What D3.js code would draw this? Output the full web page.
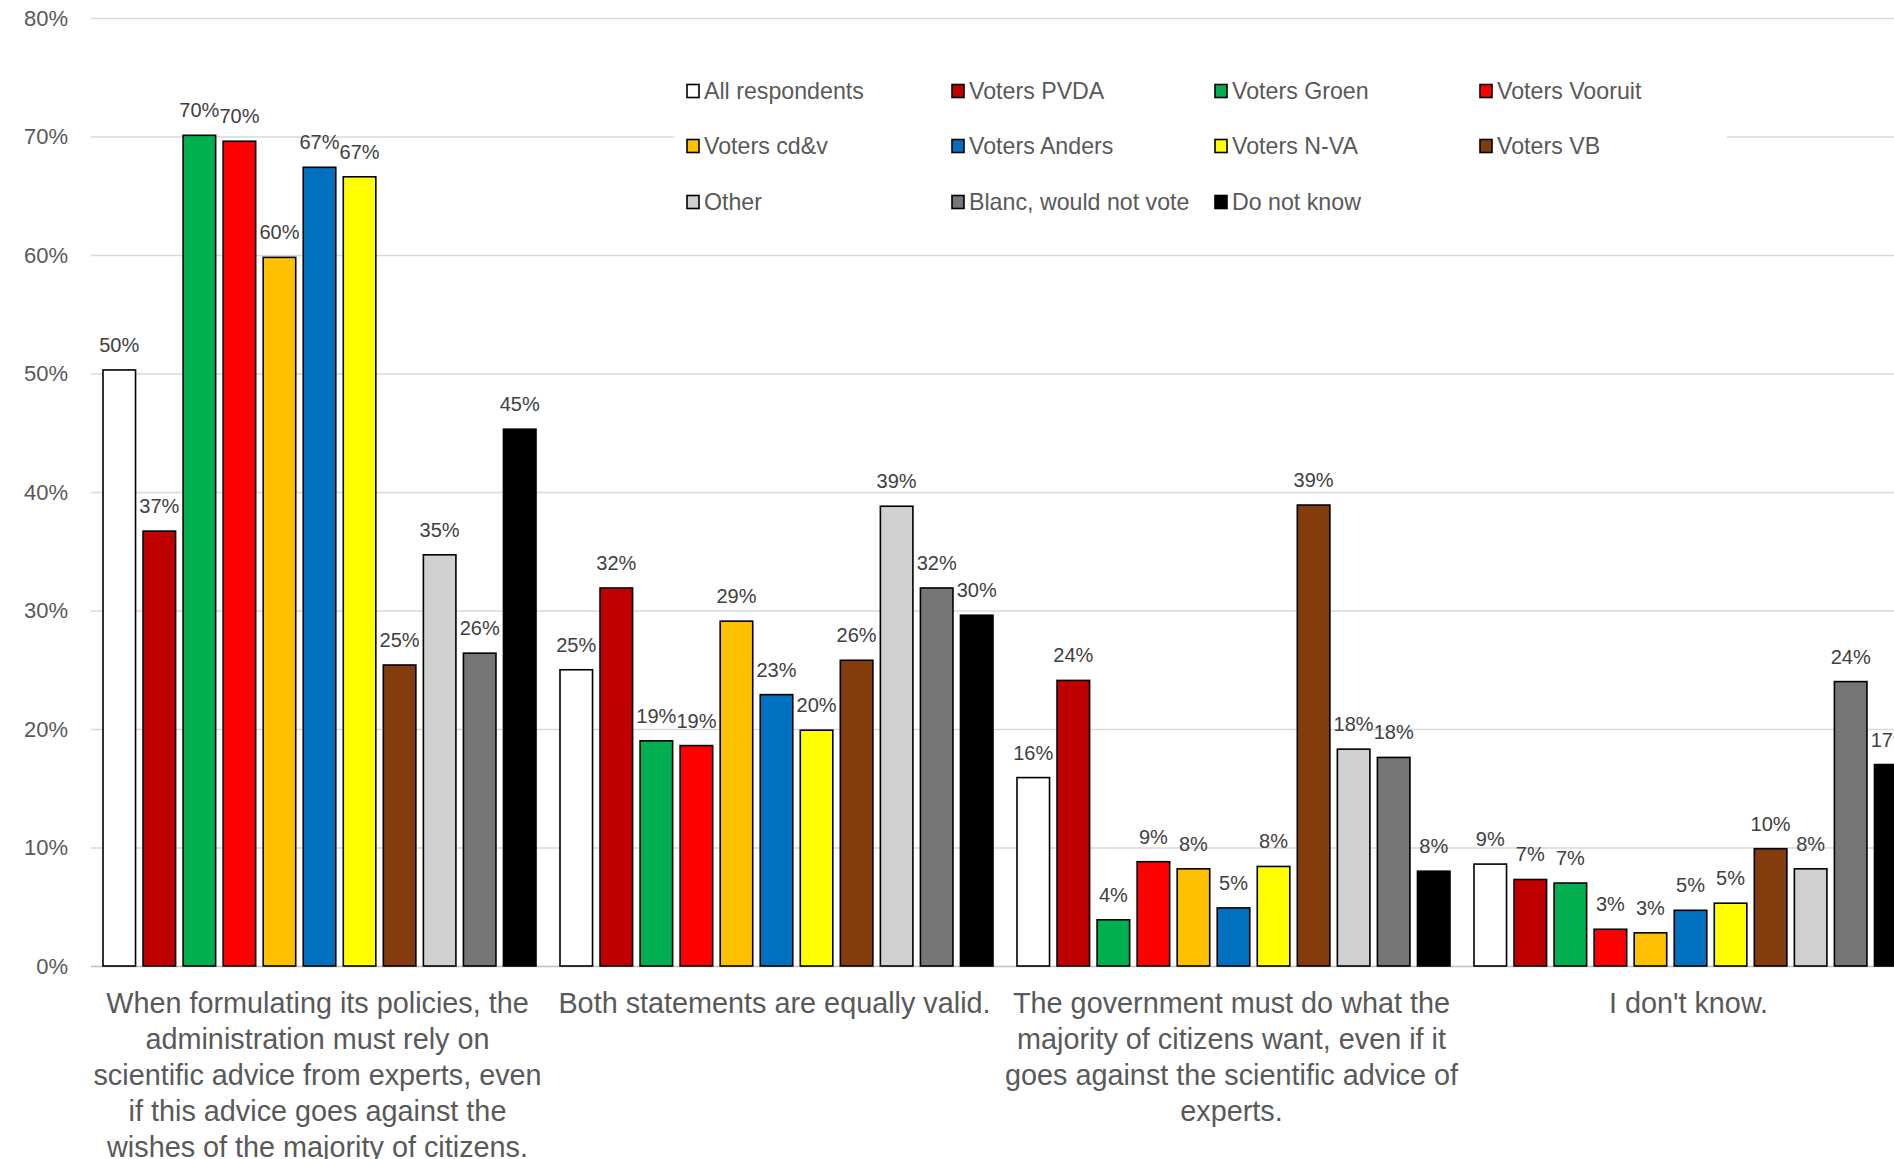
<!DOCTYPE html>
<html><head><meta charset="utf-8">
<script src="https://cdn.jsdelivr.net/npm/d3@7"></script>
<style>html,body{margin:0;padding:0;background:#fff;overflow:hidden}</style>
</head><body>
<svg id="chart" width="1894" height="1159"></svg>
<script>
const categories = [
  "When formulating its policies, the administration must rely on scientific advice from experts, even if this advice goes against the wishes of the majority of citizens.",
  "Both statements are equally valid.",
  "The government must do what the majority of citizens want, even if it goes against the scientific advice of experts.",
  "I don't know."
];
const categoryLines = [
  ["When formulating its policies, the","administration must rely on","scientific advice from experts, even","if this advice goes against the","wishes of the majority of citizens."],
  ["Both statements are equally valid."],
  ["The government must do what the","majority of citizens want, even if it","goes against the scientific advice of","experts."],
  ["I don't know."]
];
const seriesNames = ["All respondents","Voters PVDA","Voters Groen","Voters Vooruit","Voters cd&v","Voters Anders","Voters N-VA","Voters VB","Other","Blanc, would not vote","Do not know"];
const seriesColors = ["#FFFFFF","#C00000","#00B050","#FF0000","#FFC000","#0070C0","#FFFF00","#843C0C","#D0D0D0","#767676","#000000"];
// values per series, across the 4 categories
const allRespondents = [0.503, 0.250, 0.159, 0.086];
const votersPVDA     = [0.367, 0.319, 0.241, 0.073];
const votersGroen    = [0.701, 0.190, 0.039, 0.070];
const votersVooruit  = [0.696, 0.186, 0.088, 0.031];
const votersCDV      = [0.598, 0.291, 0.082, 0.028];
const votersAnders   = [0.674, 0.229, 0.049, 0.047];
const votersNVA      = [0.666, 0.199, 0.084, 0.053];
const votersVB       = [0.254, 0.258, 0.389, 0.099];
const other          = [0.347, 0.388, 0.183, 0.082];
const blanc          = [0.264, 0.319, 0.176, 0.240];
const doNotKnow      = [0.453, 0.296, 0.080, 0.170];
const seriesValues = [allRespondents, votersPVDA, votersGroen, votersVooruit, votersCDV, votersAnders, votersNVA, votersVB, other, blanc, doNotKnow];
const yTicks = [0,0.1,0.2,0.3,0.4,0.5,0.6,0.7,0.8];

const svg = d3.select("#chart");
const font = "'Liberation Sans', Arial, sans-serif";
const plotLeft = 91, bandW = 457, plotTop = 18, plotBottom = 966;

const x0 = d3.scaleBand().domain(categories).range([plotLeft, plotLeft + bandW*categories.length]);
const x1 = d3.scaleBand().domain(seriesNames).range([12, bandW-12]).paddingInner(0.1875).paddingOuter(0);
const y = d3.scaleLinear().domain([0, 0.8]).range([plotBottom, plotTop]);

// gridlines
const yAxis = d3.axisLeft(y).tickValues(yTicks).tickFormat(d3.format(".0%")).tickSize(-(2000)).tickPadding(23);
const gy = svg.append("g").attr("transform", `translate(${plotLeft},0)`).call(yAxis);
gy.select(".domain").remove();
gy.selectAll(".tick line").attr("stroke", d => d===0 ? "#BFBFBF" : "#D9D9D9").attr("stroke-width", 1.5);
gy.selectAll(".tick text").attr("fill", "#595959").style("font-family", font).style("font-size", "22px");

// legend background
const legG = svg.append("g");
legG.append("rect").attr("x", 674).attr("y", 58).attr("width", 1053).attr("height", 176).attr("fill", "#fff");

// bars
const groups = svg.append("g").selectAll("g").data(categories).join("g")
  .attr("transform", d => `translate(${x0(d)},0)`);
groups.each(function(cat, ci) {
  const g = d3.select(this);
  seriesNames.forEach((s, si) => {
    const v = seriesValues[si][ci];
    g.append("rect")
      .attr("x", x1(s)).attr("y", y(v))
      .attr("width", x1.bandwidth()).attr("height", y(0) - y(v))
      .attr("fill", seriesColors[si]).attr("stroke", "#000").attr("stroke-width", 1.6);
    g.append("text")
      .attr("x", x1(s) + x1.bandwidth()/2).attr("y", y(v) - 18)
      .attr("text-anchor", "middle").attr("fill", "#404040")
      .style("font-family", font).style("font-size", "20px")
      .text(d3.format(".0%")(v));
  });
});

// category labels
const xAxis = d3.axisBottom(x0).tickSize(0).tickFormat("");
const gx = svg.append("g").attr("transform", `translate(0,${plotBottom})`).call(xAxis);
gx.select(".domain").remove();
gx.selectAll(".tick").each(function(d, i) {
  const t = d3.select(this).append("text")
    .attr("text-anchor", "middle").attr("fill", "#595959")
    .style("font-family", font).style("font-size", "28.8px");
  categoryLines[i].forEach((line, li) => {
    t.append("tspan").attr("x", -2).attr("y", 47 + li*36).text(line);
  });
});

// legend
const legCols = [687, 952, 1215, 1480];
const legRows = [91, 146, 202];
seriesNames.forEach((s, i) => {
  const cx = legCols[i % 4], cy = legRows[Math.floor(i/4)];
  legG.append("rect").attr("x", cx).attr("y", cy-6.5).attr("width", 12).attr("height", 13)
    .attr("fill", seriesColors[i]).attr("stroke", "#000").attr("stroke-width", 1.6);
  legG.append("text").attr("x", cx + 17).attr("y", cy).attr("dy", "0.35em")
    .attr("fill", "#595959").style("font-family", font).style("font-size", "23.2px").text(s);
});
</script>
</body></html>
